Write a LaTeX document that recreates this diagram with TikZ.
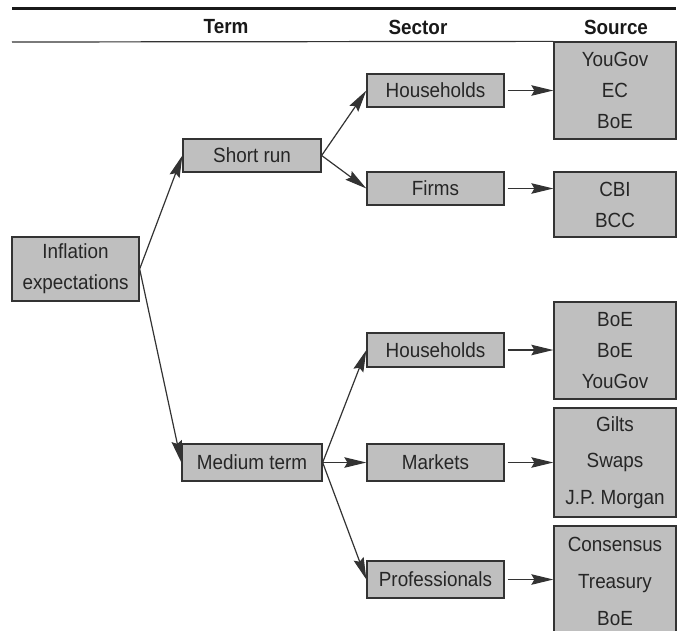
\documentclass[tikz,border=0pt]{standalone}
\usepackage{fontspec}
\setmainfont{Liberation Sans}[FakeStretch=0.92]
\usetikzlibrary{arrows.meta}

\begin{document}
\begin{tikzpicture}[x=1pt,y=-1pt,
    box/.style={draw=black!80, line width=1.3pt, fill=black!25, inner sep=0pt,
        text=black!85, align=center, font=\fontsize{20.5}{31}\selectfont},
    secbox/.style={box, minimum width=137pt},
    srcbox/.style={box, minimum width=122pt},
    head/.style={text=black!90, font=\bfseries\fontsize{20.5}{24}\selectfont},
    arr/.style={draw=black!80, line width=1.2pt, -{Stealth[length=22pt,width=10.5pt,inset=3pt]}}]
    \clip (0,0) rectangle (679,630);

    % header
    \draw [line width=3pt, black!90] (12,8.5) -- (676,8.5);
    \node [head] (term) at (226,27) {Term};
    \node [head] (sector) at (418,27) {Sector};
    \node [head] (source) at (616,27) {Source};

    % term
    \node [box, minimum width=127pt, minimum height=64pt] (infl) at (75.5,269) {Inflation\\expectations};
    \node [box, minimum width=138pt, minimum height=33pt] (short) at (252,155.5) {Short run};
    \node [box, minimum width=140pt, minimum height=37pt] (medium) at (252,462.5) {Medium term};

    % sector
    \node [secbox, minimum height=33pt] (hh1) at (435.5,90.5) {Households};
    \node [secbox, minimum height=33pt] (firms) at (435.5,188.5) {Firms};
    \node [secbox, minimum height=34pt] (hh2) at (435.5,350) {Households};
    \node [secbox, minimum height=37pt] (markets) at (435.5,462.5) {Markets};
    \node [secbox, minimum height=37pt] (prof) at (435.5,579.5) {Professionals};

    % source
    \node [srcbox, minimum height=97pt] (src1) at (615,90.5) {YouGov\\EC\\BoE};
    \node [srcbox, minimum height=65pt] (src2) at (615,204.5) {CBI\\BCC};
    \node [srcbox, minimum height=97pt] (src3) at (615,350.5) {BoE\\BoE\\YouGov};
    \node [srcbox, minimum height=109pt, font=\fontsize{20.5}{36.5}\selectfont] (src4) at (615,462.5) {Gilts\\Swaps\\J.P. Morgan};
    \node [srcbox, minimum height=110pt, font=\fontsize{20.5}{37}\selectfont] (src5) at (615,581) {Consensus\\Treasury\\BoE};

    \draw [line width=1.2pt, black!80] (12,42) -- (src1.north west);

    \draw [arr] (infl.east) -- (short.west);
    \draw [arr] (infl.east) -- (medium.west);
    \draw [arr] (short.east) -- (hh1.west);
    \draw [arr] (short.east) -- (firms.west);
    \draw [arr] (medium.east) -- (hh2.west);
    \draw [arr] (medium.east) -- (markets.west);
    \draw [arr] (medium.east) -- (prof.west);

    \draw [arr, shorten <=3pt] (hh1.east) -- (hh1.east -| src1.west);
    \draw [arr, shorten <=3pt] (firms.east) -- (firms.east -| src2.west);
    \draw [arr, shorten <=3pt] (hh2.east) -- (hh2.east -| src3.west);
    \draw [arr, shorten <=3pt] (markets.east) -- (markets.east -| src4.west);
    \draw [arr, shorten <=3pt] (prof.east) -- (prof.east -| src5.west);
\end{tikzpicture}
\end{document}
